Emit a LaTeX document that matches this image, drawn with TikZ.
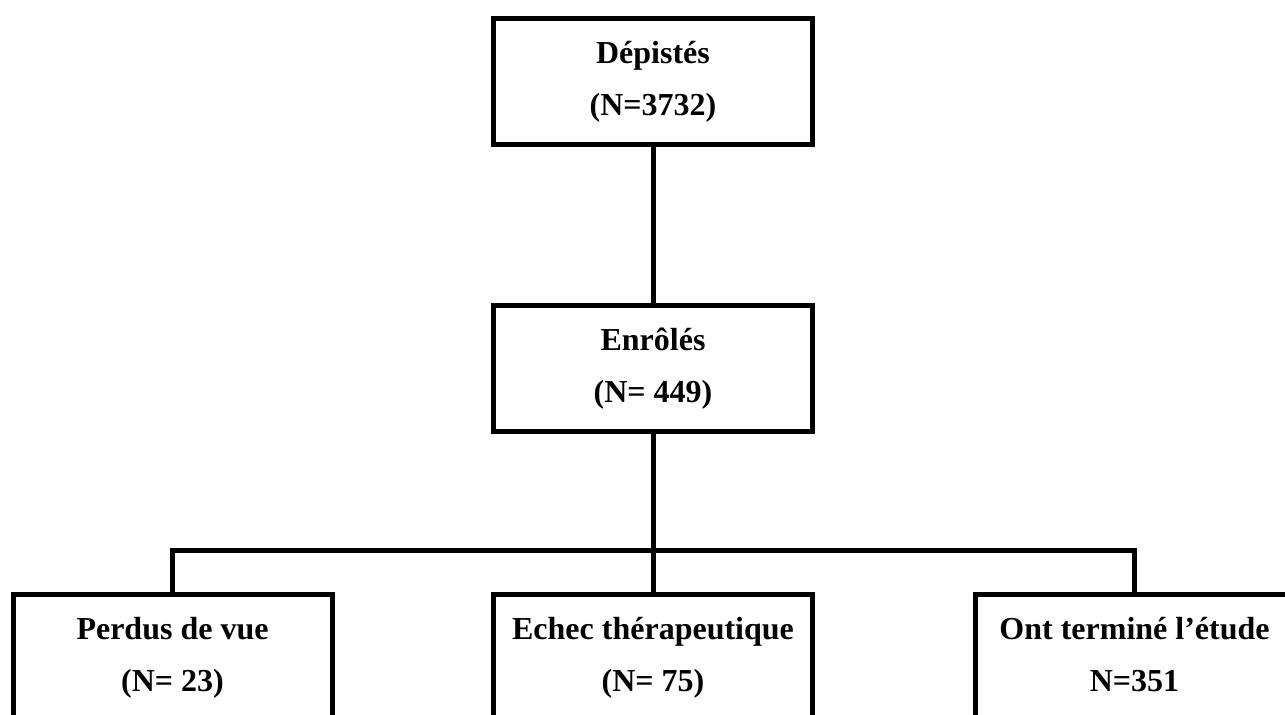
\documentclass[tikz,border=0pt]{standalone}
\usepackage{fontspec}
\setmainfont{Liberation Serif}
\usepackage{tikz}

\begin{document}
\begin{tikzpicture}[
		x=0.5pt, y=-0.5pt,
		every node/.style={rectangle, draw, line width=2.5pt, minimum width=159.5pt, minimum height=63pt, align=center, font=\fontsize{16}{26}\selectfont\bfseries},
		link/.style={line width=2.5pt}
	]
  \clip (0,0) rectangle (1285,714);
  \node (depistes) at (653, 81.5) {Dépistés\\(N=3732)};
  \node (enroles) at (653, 368.5) {Enrôlés\\(N= 449)};
  \node (perdus) at (172.5, 657.5) {Perdus de vue\\(N= 23)};
  \node (echec) at (653, 657.5) {Echec thérapeutique\\(N= 75)};
  \node (termine) at (1134.5, 657.5) {Ont terminé l’étude\\N=351\vphantom{()}};
  \coordinate (split) at (653, 550);
  \draw [link] (depistes) -- (enroles);
  \draw [link] (enroles) -- (split);
  \draw [link] (split) -- (echec);
  \draw [link] (perdus.north) |- (split) -| (termine.north);
\end{tikzpicture}
\end{document}
